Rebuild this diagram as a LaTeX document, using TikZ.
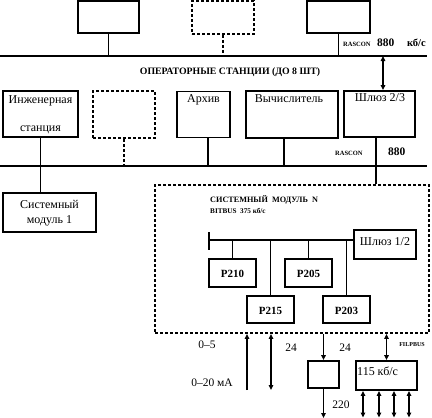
\documentclass[tikz,border=0pt]{standalone}
\usepackage{fontspec}
\setmainfont{Liberation Serif}
\usetikzlibrary{arrows.meta}
\begin{document}
\begin{tikzpicture}[x=1pt,y=-1pt,
  box/.style={draw, line width=1.8pt, inner sep=0pt},
  dbox/.style={box, dash pattern=on 3pt off 2pt},
  wire/.style={line width=1.8pt},
  dwire/.style={wire, dash pattern=on 3pt off 2pt},
  bus/.style={line width=1.9pt},
  tip/.style={-{Triangle[length=5pt,width=4.5pt]}},
  dtip/.style={{Triangle[length=5pt,width=4.5pt]}-{Triangle[length=5pt,width=4.5pt]}},
  arr/.style={line width=1.4pt},
  txt/.style={font=\fontsize{12}{14}\selectfont, inner sep=0pt},
  ptxt/.style={font=\fontsize{11}{13}\selectfont\bfseries, inner sep=0pt},
  lbl/.style={inner sep=0pt, anchor=base west}
]
\useasboundingbox (0,0) rectangle (432,418);
% top operator stations
\node[box, minimum width=61pt, minimum height=32pt] (t1) at (108.5,17) {};
\node[dbox, minimum width=62pt, minimum height=33pt] (t2) at (223,17.5) {};
\node[box, minimum width=63pt, minimum height=32pt] (t3) at (338.5,17) {};
\coordinate (b1L) at (0,56); \coordinate (b1R) at (427,56);
\draw[bus] (b1L) -- (b1R);
\draw[wire] (t1.south) -- (t1.south |- b1L);
\draw[dwire] (t2.south) -- (t2.south |- b1L);
\draw[wire] (t3.south) -- (t3.south |- b1L);
\node[lbl, font=\fontsize{6.5}{8}\selectfont\bfseries] (r1) at (343,46) {RASCON};
\node[lbl, font=\fontsize{11.5}{13}\selectfont\bfseries] (r1n) at (377,46) {880};
\node[lbl, font=\fontsize{10.5}{12}\selectfont\bfseries] (r1k) at (407,46) {кб/с};
\node[inner sep=0pt, font=\fontsize{9.8}{11}\selectfont\bfseries] (title) at (230,72) {ОПЕРАТОРНЫЕ СТАНЦИИ (ДО 8 ШТ)};
% second row
\node[box, minimum width=75pt, minimum height=46pt] (ing) at (40.5,114) {};
\node[dbox, minimum width=62pt, minimum height=47pt] (d2) at (124,114.5) {};
\node[box, minimum width=53pt, minimum height=46pt] (arch) at (203.5,114.5) {};
\node[box, minimum width=92pt, minimum height=47pt] (calc) at (292,114.5) {};
\node[box, minimum width=71pt, minimum height=46pt] (gw) at (379.5,114) {};
\node[txt] (ingA) at (40.5,101) {Инженерная};
\node[txt] (ingB) at (40.5,130) {станция};
\node[txt] (archT) at (203.5,100) {Архив};
\node[txt] (calcT) at (289,99) {Вычислитель};
\node[txt] (gwT) at (380,98) {Шлюз 2/3};
\draw[arr, dtip] ([xshift=3.5pt]gw.north |- b1L) -- ([xshift=3.5pt]gw.north);
\coordinate (b2L) at (0,166); \coordinate (b2R) at (427,166);
\draw[bus] (b2L) -- (b2R);
\node[lbl, font=\fontsize{6.5}{8}\selectfont\bfseries] (r2) at (335,155) {RASCON};
\node[lbl, font=\fontsize{11.5}{13}\selectfont\bfseries] (r2n) at (388,155) {880};
\draw[dwire] (d2.south) -- (d2.south |- b2L);
\draw[wire] ([xshift=4.5pt]arch.south) -- ([xshift=4.5pt]arch.south |- b2L);
\draw[wire] ([xshift=-8pt]calc.south) -- ([xshift=-8pt]calc.south |- b2L);
% system module 1
\node[box, minimum width=93pt, minimum height=39pt] (sm1) at (49.5,212.5) {};
\node[txt] (sm1A) at (49.5,204) {Системный};
\node[txt] (sm1B) at (49.5,221) {модуль 1};
\draw[wire] (ing.south) -- (ing.south |- sm1.north);
% system module N
\node[dbox, minimum width=274pt, minimum height=148pt] (smN) at (292,259) {};
\draw[wire] ([xshift=-3.5pt]gw.south) -- ([xshift=-3.5pt]gw.south |- smN.north);
\node[lbl, font=\fontsize{8.2}{9}\selectfont\bfseries] (smNT) at (210,202) {СИСТЕМНЫЙ\ \ МОДУЛЬ\ \ N};
\node[lbl, font=\fontsize{7.2}{8}\selectfont\bfseries] (bitT) at (210,213) {BITBUS\ \ 375 кб/с};
\node[box, minimum width=62pt, minimum height=29pt] (gw12) at (385,244.5) {};
\node[txt] (gw12T) at (385,242) {Шлюз 1/2};
\coordinate (b3L) at (209,240);
\draw[wire] (b3L) -- (b3L -| gw12.west);
\coordinate (barT) at (209,232); \coordinate (barB) at (209,250);
\draw[wire] (barT) -- (barB);
\node[box, minimum width=47pt, minimum height=28pt] (p210) at (232.5,273) {};
\node[box, minimum width=47pt, minimum height=28pt] (p205) at (308.5,273) {};
\node[box, minimum width=47pt, minimum height=27pt] (p215) at (270.5,309.5) {};
\node[box, minimum width=47pt, minimum height=27pt] (p203) at (346.5,309.5) {};
\node[ptxt] at ([yshift=-1pt]p210.center) {P210};
\node[ptxt] at ([yshift=-1pt]p205.center) {P205};
\node[ptxt] at ([yshift=-1pt]p215.center) {P215};
\node[ptxt] at ([yshift=-1pt]p203.center) {P203};
\draw[wire] (p210.north |- b3L) -- (p210.north);
\draw[wire] (p205.north |- b3L) -- (p205.north);
\draw[wire] (p215.north |- b3L) -- (p215.north);
\draw[wire] (p203.north |- b3L) -- (p203.north);
% bottom I/O
\node[box, minimum width=31pt, minimum height=27pt] (pw) at (323.5,374.5) {};
\node[box, minimum width=61pt, minimum height=29pt] (fb) at (386.5,375.5) {};
\node[txt, anchor=west] (fbT) at (357,371) {115 кб/с};
\coordinate (in1) at (247,390);
\coordinate (in2) at (271,390);
\draw[arr, tip] (in1) -- (in1 |- smN.south);
\draw[arr, dtip] (in2 |- smN.south) -- (in2);
\draw[arr, tip] (pw.north |- smN.south) -- (pw.north);
\coordinate (pwout) at (323.5,418);
\draw[arr, tip] (pw.south) -- (pwout);
\draw[arr, dtip] (fb.north |- smN.south) -- (fb.north);
\foreach \xx [count=\i] in {363,379,394,409} {
  \coordinate (fo\i) at (\xx,417.5);
  \draw[arr, dtip] (fo\i |- fb.south) -- (fo\i);
}
\node[txt, font=\fontsize{11.5}{13}\selectfont] (l05) at (207,345) {0–5};
\node[txt, font=\fontsize{11.5}{13}\selectfont] (l24a) at (291,348) {24};
\node[txt, font=\fontsize{11.5}{13}\selectfont] (l24b) at (345,348) {24};
\node[txt, font=\fontsize{11.5}{13}\selectfont] (l020) at (212,383) {0–20 мА};
\node[txt, font=\fontsize{11.5}{13}\selectfont] (l220) at (341,405) {220};
\node[inner sep=0pt, font=\fontsize{6}{7}\selectfont\bfseries] (lfil) at (412,345) {FILPBUS};
\end{tikzpicture}
\end{document}
